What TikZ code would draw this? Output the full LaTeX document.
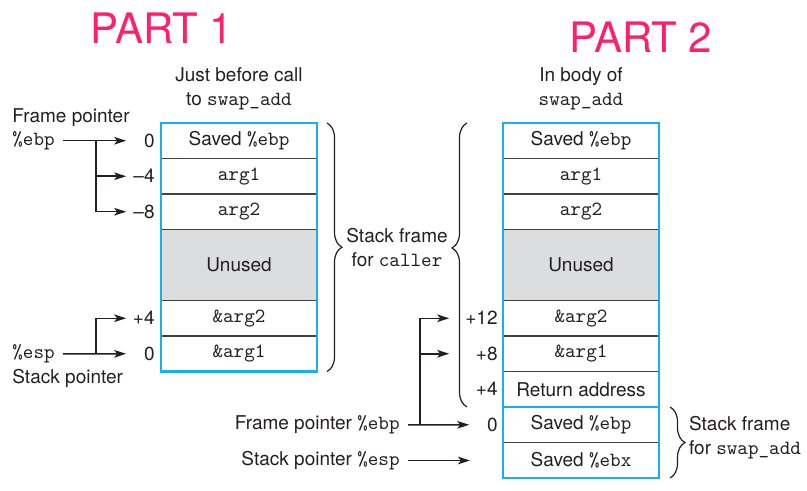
\documentclass[tikz,border=0pt]{standalone}
\usepackage{fontspec}
\setmainfont{TeX Gyre Heros}
\setmonofont{Latin Modern Mono}[Scale=1.06]
\usetikzlibrary{positioning,arrows.meta,decorations.pathreplacing}
\definecolor{framecolor}{HTML}{1AAEEB}
\definecolor{unusedcolor}{HTML}{DCDDDE}
\definecolor{partcolor}{HTML}{FF1F6E}
\definecolor{inkcolor}{HTML}{231F20}

\tikzset{
  cell/.style={draw=inkcolor!85, line width=0.7pt, minimum width=78pt, minimum height=17.75pt, inner sep=0pt, outer sep=0pt},
  unusedcell/.style={cell, fill=unusedcolor, minimum height=35.5pt},
  stackframe/.style={draw=framecolor, line width=1.3pt},
  offl/.style={text width=12pt, align=right, inner sep=2pt},
  offr/.style={text width=22pt, align=right, inner sep=2pt},
  ptrtext/.style={inner sep=4pt},
  ptr/.style={draw=inkcolor, line width=0.75pt, -{Stealth[length=6pt,width=3.8pt,inset=1.5pt]}},
  brc/.style={draw=inkcolor, line width=0.6pt, decorate, decoration={brace, amplitude=7.5pt}},
  part/.style={text=partcolor, font=\fontsize{21}{21}\selectfont}
}

\begin{document}
\begin{tikzpicture}[x=0.5pt, y=-0.5pt, font=\fontsize{9.5}{12}\selectfont, text=inkcolor]
  \useasboundingbox (0,0) rectangle (807,491);

  % Part titles
  \node[part] (part1) at (162,28) {PART 1};
  \node[part] (part2) at (641,37) {PART 2};

  % Stack before the call
  \node[align=center] (titleL) at (239,89) {Just before call\\to \texttt{swap\_add}};
  \node[cell] (sebpL) at (239,140.75) {Saved \texttt{\%ebp}};
  \node[cell, below=0pt of sebpL] (arg1L) {\texttt{arg1}};
  \node[cell, below=0pt of arg1L] (arg2L) {\texttt{arg2}};
  \node[unusedcell, below=0pt of arg2L] (unusedL) {Unused};
  \node[cell, below=0pt of unusedL] (aarg2L) {\texttt{\&arg2}};
  \node[cell, below=0pt of aarg2L] (aarg1L) {\texttt{\&arg1}};
  \draw[stackframe] (sebpL.north west) rectangle (aarg1L.south east);

  % Offsets before the call
  \node[offl, left=1pt of sebpL] (o0L) {0};
  \node[offl, left=1pt of arg1L] (om4L) {\textendash4};
  \node[offl, left=1pt of arg2L] (om8L) {\textendash8};
  \node[offl, left=1pt of aarg2L] (op4L) {+4};
  \node[offl, left=1pt of aarg1L] (o0bL) {0};

  % Pointers before the call
  \node[ptrtext, anchor=west] (fpL) at (4,118) {Frame pointer};
  \node[ptrtext, anchor=west] (ebpL) at (4,140.75) {\texttt{\%ebp}};
  \node[ptrtext, anchor=west] (espL) at (4,354) {\texttt{\%esp}};
  \node[ptrtext, anchor=west] (spL) at (4,378) {Stack pointer};
  \coordinate (brL1) at (96,140.75);
  \coordinate (brL2) at (96,354);
  \draw[ptr] (ebpL) -- (o0L);
  \draw[ptr] (brL1) |- (om4L.west);
  \draw[ptr] (brL1) |- (om8L.west);
  \draw[ptr] (espL) -- (o0bL);
  \draw[ptr] (brL2) |- (op4L.west);

  % Stack in the body of swap_add
  \node[align=center] (titleR) at (581,89) {In body of\\\texttt{swap\_add}};
  \node[cell] (sebpR) at (581,140.75) {Saved \texttt{\%ebp}};
  \node[cell, below=0pt of sebpR] (arg1R) {\texttt{arg1}};
  \node[cell, below=0pt of arg1R] (arg2R) {\texttt{arg2}};
  \node[unusedcell, below=0pt of arg2R] (unusedR) {Unused};
  \node[cell, below=0pt of unusedR] (aarg2R) {\texttt{\&arg2}};
  \node[cell, below=0pt of aarg2R] (aarg1R) {\texttt{\&arg1}};
  \node[cell, below=0pt of aarg1R] (retR) {Return address};
  \node[cell, below=0pt of retR] (sebp2R) {Saved \texttt{\%ebp}};
  \node[cell, below=0pt of sebp2R] (sebxR) {Saved \texttt{\%ebx}};
  \draw[stackframe] (sebpR.north west) rectangle (retR.south east);
  \draw[stackframe] (sebp2R.north west) rectangle (sebxR.south east);

  % Offsets in the body
  \node[offr, left=0.5pt of aarg2R] (p12R) {+12};
  \node[offr, left=0.5pt of aarg1R] (p8R) {+8};
  \node[offr, left=0.5pt of retR] (p4R) {+4};
  \node[offr, text width=12pt, left=0.5pt of sebp2R] (o0R) {0};

  % Pointers in the body
  \node[ptrtext, anchor=east] (fpR) at (408,425) {Frame pointer \texttt{\%ebp}};
  \node[ptrtext, anchor=east] (spR) at (408,460.5) {Stack pointer \texttt{\%esp}};
  \coordinate (brR) at (420,425);
  \coordinate (espR) at (470,460.5);
  \draw[ptr] (fpR) -- (o0R);
  \draw[ptr] (brR) |- (p12R.west);
  \draw[ptr] (brR) |- (p8R.west);
  \draw[ptr] (spR) -- (espR);

  % Stack frame braces
  \draw[brc] ([xshift=5pt]sebpL.north east) -- ([xshift=5pt]aarg1L.south east);
  \draw[brc, decoration={aspect=0.56}] ([xshift=-18pt]retR.south west) -- ([xshift=-18pt]sebpR.north west);
  \node[align=center] (callerTxt) at (397,248) {Stack frame\\for \texttt{caller}};
  \draw[brc] ([xshift=5.5pt]sebp2R.north east) -- ([xshift=5.5pt]sebxR.south east);
  \node[align=left, anchor=west] (swapTxt) at (682,438) {Stack frame\\for \texttt{swap\_add}};
\end{tikzpicture}
\end{document}
